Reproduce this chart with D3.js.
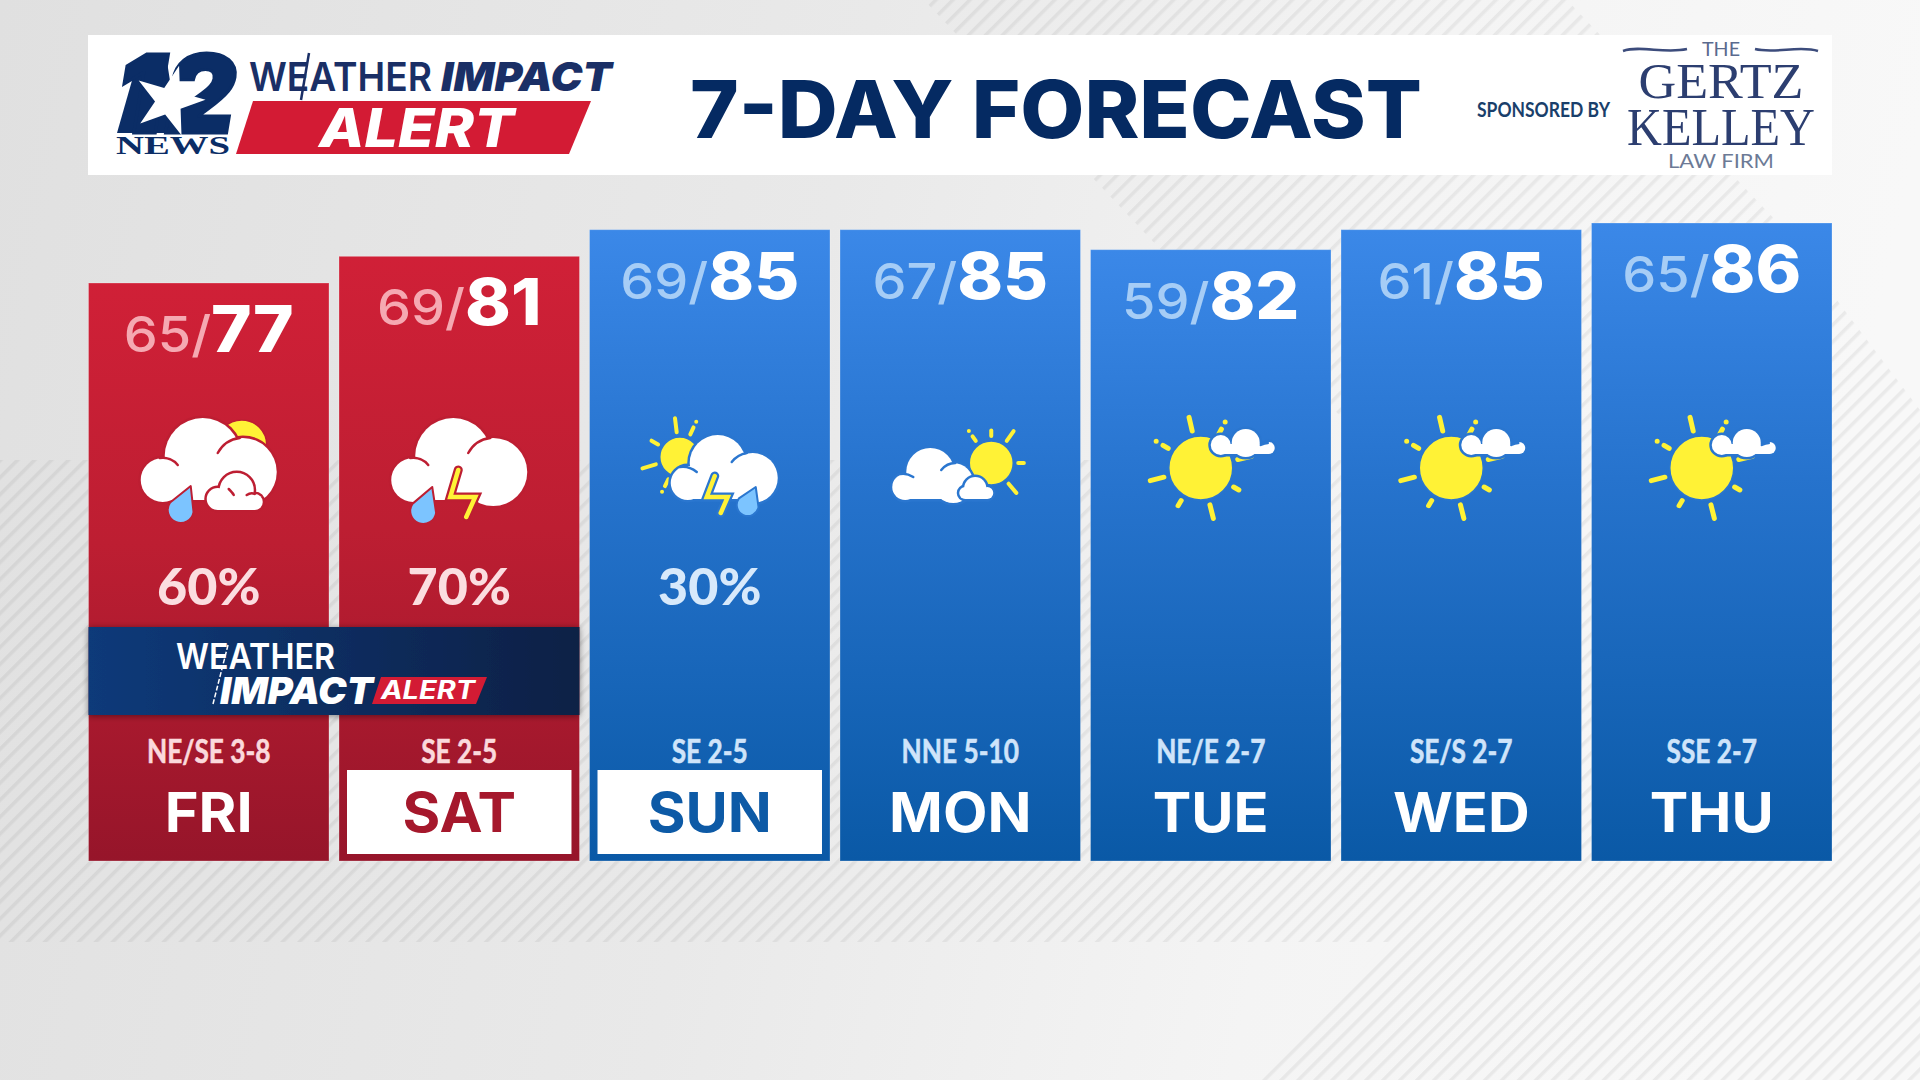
<!DOCTYPE html>
<html>
<head>
<meta charset="utf-8">
<script src="https://d3js.org/d3.v7.min.js"></script>
<style>
    html, body { margin: 0; padding: 0; background: #e8e8e8; }
    svg { display: block; }
    text { font-family: Inter, sans-serif; }
</style>
</head>
<body>
<div id="chart"></div>
<script>
var days = ['FRI', 'SAT', 'SUN', 'MON', 'TUE', 'WED', 'THU'];
var lows = [65, 69, 69, 67, 59, 61, 65];
var highs = [77, 81, 85, 85, 82, 85, 86];
var rainChance = [60, 70, 30, null, null, null, null];
var winds = ['NE/SE 3-8', 'SE 2-5', 'SE 2-5', 'NNE 5-10', 'NE/E 2-7', 'SE/S 2-7', 'SSE 2-7'];
var conditions = ['rainCloudSun', 'storm', 'sunStorm', 'partlySunny', 'mostlySunny', 'mostlySunny', 'mostlySunny'];
var alertDays = ['FRI', 'SAT'];
var boxedDays = ['SAT', 'SUN'];

var width = 1920;
var height = 1080;
var barBottom = 861;

var svg = d3.select('#chart').append('svg')
    .attr('width', width)
    .attr('height', height);

var defs = svg.append('defs');

function addGradient(id, stops, x2, y2) {
    var gradient = defs.append('linearGradient')
        .attr('id', id)
        .attr('x1', 0).attr('y1', 0)
        .attr('x2', x2).attr('y2', y2);
    stops.forEach(function (s) {
        gradient.append('stop').attr('offset', s[0]).attr('stop-color', s[1]);
    });
}

addGradient('bg', [[0, '#e0e0e0'], [0.45, '#e9e9e9'], [0.75, '#f4f4f4'], [1, '#f8f8f8']], 1, 0.12);
addGradient('redBar', [[0, '#d02037'], [0.45, '#bd1e32'], [1, '#96152a']], 0, 1);
addGradient('blueBar', [[0, '#3b88e8'], [0.4, '#2673cd'], [1, '#0a59a6']], 0, 1);
addGradient('banner', [[0, '#0b3a7a'], [1, '#0f2045']], 1, 0);

var hatch = defs.append('pattern')
    .attr('id', 'hatch')
    .attr('patternUnits', 'userSpaceOnUse')
    .attr('width', 12)
    .attr('height', 12)
    .attr('patternTransform', 'rotate(45)');
hatch.append('rect')
    .attr('width', 3.5)
    .attr('height', 12)
    .attr('fill', 'rgba(0,0,0,0.055)');

var shadow = defs.append('filter')
    .attr('id', 'shadow')
    .attr('x', -0.05).attr('y', -0.2)
    .attr('width', 1.1).attr('height', 1.4);
shadow.append('feDropShadow')
    .attr('dx', 0).attr('dy', 1)
    .attr('stdDeviation', 3)
    .attr('flood-opacity', 0.45);

/**
 * The grey backdrop with its two hatched areas.
 */
function drawBackground(selection) {
    selection.append('rect')
        .attr('width', width)
        .attr('height', height)
        .attr('fill', 'url(#bg)');

    selection.append('path')
        .attr('d', 'M0,460H1389V942H0Z')
        .attr('fill', 'url(#hatch)');

    selection.append('path')
        .attr('d', 'M924,0H1567L1780,225L1920,410V1080H1252L1389,942L1389,460L1180,270Z')
        .attr('fill', 'url(#hatch)');
}

/**
 * The white title strip: station logo, title and sponsor.
 */
function drawHeader(selection) {
    var navy = '#0b2d66';
    selection.append('rect')
        .attr('x', 88).attr('y', 35)
        .attr('width', 1744).attr('height', 140)
        .attr('fill', '#fff');

    // block behind the "1", the star bites into it
    selection.append('path')
        .attr('d', 'M117,133L137,63L166,55L178,133Z')
        .attr('fill', navy);

    selection.append('text')
        .attr('x', 116).attr('y', 133)
        .attr('textLength', 120)
        .attr('lengthAdjust', 'spacingAndGlyphs')
        .style('font-size', '108px')
        .style('font-weight', 900)
        .style('font-style', 'italic')
        .attr('fill', navy)
        .attr('stroke', navy)
        .attr('stroke-width', 3)
        .text('12');

    selection.append('path')
        .attr('d', d3.symbol(d3.symbolStar).size(1500))
        .attr('transform', 'translate(169,101) rotate(16)')
        .attr('fill', '#fff');

    selection.append('text')
        .attr('x', 116).attr('y', 154)
        .attr('textLength', 114)
        .attr('lengthAdjust', 'spacingAndGlyphs')
        .style('font-family', '"Liberation Serif", serif')
        .style('font-size', '26px')
        .style('font-weight', 700)
        .attr('fill', navy)
        .text('NEWS');

    selection.append('text')
        .attr('x', 249).attr('y', 91)
        .attr('textLength', 183)
        .attr('lengthAdjust', 'spacingAndGlyphs')
        .style('font-size', '40px')
        .style('font-weight', 600)
        .attr('fill', '#1a2f66')
        .text('WEATHER');

    selection.append('text')
        .attr('x', 441).attr('y', 91)
        .attr('textLength', 171)
        .attr('lengthAdjust', 'spacingAndGlyphs')
        .style('font-size', '40px')
        .style('font-weight', 900)
        .style('font-style', 'italic')
        .attr('fill', '#1a2f66')
        .text('IMPACT');

    selection.append('path')
        .attr('d', 'M309,53L301,100')
        .attr('stroke', '#1a2f66')
        .attr('stroke-width', 2.5);

    selection.append('path')
        .attr('d', 'M253,101H591L569,154H236Z')
        .attr('fill', '#d31b34');

    selection.append('text')
        .attr('x', 319).attr('y', 147)
        .attr('textLength', 195)
        .attr('lengthAdjust', 'spacingAndGlyphs')
        .style('font-size', '54px')
        .style('font-weight', 800)
        .style('font-style', 'italic')
        .attr('fill', '#fff')
        .text('ALERT');

    selection.append('text')
        .attr('x', 690).attr('y', 138)
        .attr('textLength', 732)
        .attr('lengthAdjust', 'spacingAndGlyphs')
        .style('font-size', '80px')
        .style('font-weight', 800)
        .attr('fill', '#052a62')
        .text('7-DAY FORECAST');

    selection.append('text')
        .attr('x', 1477).attr('y', 117)
        .attr('textLength', 133)
        .attr('lengthAdjust', 'spacingAndGlyphs')
        .style('font-family', 'Lato, sans-serif')
        .style('font-size', '21px')
        .style('font-weight', 700)
        .attr('fill', '#1a3f6b')
        .text('SPONSORED BY');

    var firm = selection.append('g').attr('text-anchor', 'middle');
    var lines = [
        {text: 'THE', y: 56, size: 20, color: '#5a6a8e', length: 38, sans: true},
        {text: 'GERTZ', y: 98, size: 50, color: '#2c3e70', length: 165},
        {text: 'KELLEY', y: 145, size: 53, color: '#2c3e70', length: 188},
        {text: 'LAW FIRM', y: 168, size: 20, color: '#6c7a96', length: 106, sans: true}
    ];
    lines.forEach(function (line) {
        firm.append('text')
            .attr('x', 1721).attr('y', line.y)
            .attr('textLength', line.length)
            .attr('lengthAdjust', 'spacingAndGlyphs')
            .style('font-family', line.sans ? 'Lato, sans-serif' : '"Liberation Serif", serif')
            .style('font-size', line.size + 'px')
            .attr('fill', line.color)
            .text(line.text);
    });

    selection.selectAll('path.swash')
        .data(['M1623,51C1640,45 1665,54 1687,49', 'M1755,49C1775,54 1800,45 1818,51'])
        .enter().append('path')
            .attr('class', 'swash')
            .attr('d', function (d) { return d; })
            .attr('fill', 'none')
            .attr('stroke', '#3c4c7c')
            .attr('stroke-width', 2.5);
}

/**
 * Draw a cloud from overlapping puffs. The outline in the background colour
 * goes first so the cloud cuts cleanly into whatever lies behind it.
 */
function drawCloud(selection, puffs, bottom, outline, creases) {
    var g = selection.append('g');
    var left = d3.min(puffs, function (p) { return p[0]; });
    var right = d3.max(puffs, function (p) { return p[0]; });
    var top = d3.max(puffs, function (p) { return p[1]; }) - 4;

    [{stroke: outline, sw: 5}, {stroke: 'none', sw: 0}].forEach(function (pass) {
        puffs.forEach(function (p) {
            g.append('circle')
                .attr('cx', p[0]).attr('cy', p[1]).attr('r', p[2])
                .attr('fill', '#fff')
                .attr('stroke', pass.stroke)
                .attr('stroke-width', pass.sw);
        });
        g.append('rect')
            .attr('x', left).attr('y', top)
            .attr('width', right - left)
            .attr('height', bottom - top)
            .attr('fill', '#fff')
            .attr('stroke', pass.stroke)
            .attr('stroke-width', pass.sw);
    });

    (creases || []).forEach(function (d) {
        g.append('path')
            .attr('d', d)
            .attr('fill', 'none')
            .attr('stroke', outline)
            .attr('stroke-width', 2.5)
            .attr('stroke-linecap', 'round');
    });
}

function drawDrop(selection, tipX, tipY, cx, cy, r, outline) {
    var a = Math.atan2(tipY - cy, tipX - cx);
    var x1 = cx + r * Math.cos(a - 1.35);
    var y1 = cy + r * Math.sin(a - 1.35);
    var x2 = cx + r * Math.cos(a + 1.35);
    var y2 = cy + r * Math.sin(a + 1.35);
    selection.append('path')
        .attr('d', 'M' + tipX + ',' + tipY + 'L' + x2 + ',' + y2 +
            'A' + r + ',' + r + ' 0 1 1 ' + x1 + ',' + y1 + 'Z')
        .attr('fill', '#7cc4ff')
        .attr('stroke', outline)
        .attr('stroke-width', 2)
        .attr('stroke-linejoin', 'round');
}

function drawBolt(selection, points, outline) {
    var line = d3.line();
    [{stroke: outline, sw: 9}, {stroke: '#fff236', sw: 4.5}].forEach(function (pass) {
        selection.append('path')
            .attr('d', line(points))
            .attr('fill', 'none')
            .attr('stroke', pass.stroke)
            .attr('stroke-width', pass.sw)
            .attr('stroke-linejoin', 'miter')
            .attr('stroke-linecap', 'round');
    });
}

/**
 * A sun with rays at the given angles, the dotted rays end in a separate dot.
 */
function drawSun(selection, cx, cy, r, rays, dotted, rayFrom, rayTo, rayWidth, outline) {
    rays.forEach(function (deg) {
        var a = deg * Math.PI / 180;
        var ray = selection.append('line')
            .attr('x1', cx + rayFrom * Math.cos(a))
            .attr('y1', cy + rayFrom * Math.sin(a))
            .attr('x2', cx + rayTo * Math.cos(a))
            .attr('y2', cy + rayTo * Math.sin(a))
            .attr('stroke', '#fff236')
            .attr('stroke-width', rayWidth)
            .attr('stroke-linecap', 'round');
        if (dotted.indexOf(deg) != -1) {
            ray.attr('stroke-dasharray', (rayTo - rayFrom - rayWidth * 1.6) + ' ' + rayWidth * 1.6 + ' 0.1 50');
        }
    });
    selection.append('circle')
        .attr('cx', cx).attr('cy', cy).attr('r', r)
        .attr('fill', '#fff236')
        .attr('stroke', outline)
        .attr('stroke-width', 1.5);
}

// each icon draws around the column centre, y values are page rows
var icons = {
    rainCloudSun: function (g) {
        var c = '#bd1e32';
        drawSun(g, 33, 445, 25, [], [], 0, 0, 0, c);
        drawCloud(g, [[-6, 456, 38], [-46, 480, 22], [34, 472, 34]], 500, c,
            ['M-49,458C-42,457 -35,460 -31,465', 'M9,453C14,444 22,439 31,438']);
        drawCloud(g, [[28, 490, 17], [9, 499, 11], [46, 502, 8]], 510, c,
            ['M20,489C22,491 24,493 25,495', 'M38,495C41,493 44,493 46,494']);
        drawDrop(g, -18, 486, -28, 510, 13, c);
    },
    storm: function (g) {
        var c = '#bd1e32';
        drawCloud(g, [[-6, 456, 38], [-46, 480, 22], [34, 472, 34]], 500, c,
            ['M-49,458C-42,457 -35,460 -31,465', 'M9,453C14,444 22,439 31,438']);
        drawBolt(g, [[-1, 470], [-9, 497], [16, 497], [7, 517]], c);
        drawDrop(g, -27, 487, -36, 511, 13, c);
    },
    sunStorm: function (g) {
        var c = '#2a76cf';
        drawSun(g, -30, 457, 20, [-97, -65, -150, 163, 117], [-65, -150, 117], 25, 39, 4, c);
        drawCloud(g, [[8, 463, 28], [-22, 483, 17], [43, 478, 25]], 499, c,
            ['M-30,467C-24,466 -18,468 -13,472', 'M22,462C26,457 31,454 37,453']);
        drawBolt(g, [[5, 476], [-3, 497], [18, 497], [11, 513]], c);
        drawDrop(g, 46, 487, 38, 505, 11, c);
    },
    partlySunny: function (g) {
        var c = '#2a76cf';
        drawSun(g, 31, 463, 22, [-90, -125, -55, 0, 50], [-90, -125, 0], 27, 39, 4, c);
        drawCloud(g, [[-30, 472, 24], [-55, 487, 13], [-7, 483, 20]], 499, c,
            ['M-60,474C-55,473 -50,475 -47,477', 'M-19,470C-15,465 -10,463 -5,463']);
        drawCloud(g, [[15, 488, 11], [5, 493, 6], [27, 493, 6]], 499, c);
    },
    mostlySunny: function (g) {
        var c = '#2a76cf';
        var rays = [-103, -62, -149, 166, 121, 76, 30, -13];
        drawSun(g, -10, 468, 32, rays, [-62, -149, 121, 30], 38, 52, 5, c);
        drawCloud(g, [[35, 443, 14], [10, 445, 10], [58, 448, 6]], 454, c,
            ['M50,445C52,444 55,443 57,443']);
    }
};

drawBackground(svg.append('g').attr('class', 'background'));
drawHeader(svg.append('g').attr('class', 'header'));

var x = d3.scaleBand()
    .domain(days)
    .range([88.5, 1832])
    .paddingInner(0.04);

// bar tops follow the high temperature
var y = d3.scaleLinear()
    .domain([77, 86])
    .range([283, 223]);

var rows = days.map(function (day, i) {
    return {
        day: day,
        low: lows[i],
        high: highs[i],
        rain: rainChance[i],
        wind: winds[i],
        condition: conditions[i],
        alert: alertDays.indexOf(day) != -1,
        boxed: boxedDays.indexOf(day) != -1
    };
});

var columns = svg.append('g').attr('class', 'columns')
    .selectAll('g.column')
    .data(rows)
    .enter().append('g')
        .attr('class', 'column')
        .attr('transform', function (d) {
            return 'translate(' + (x(d.day) + x.bandwidth() / 2) + ',0)';
        });

columns.append('rect')
    .attr('x', -x.bandwidth() / 2)
    .attr('y', function (d) { return y(d.high); })
    .attr('width', x.bandwidth())
    .attr('height', function (d) { return barBottom - y(d.high); })
    .attr('fill', function (d) { return d.alert ? 'url(#redBar)' : 'url(#blueBar)'; })
    .attr('stroke', 'rgba(255,255,255,0.25)')
    .attr('stroke-width', 1);

var temps = columns.append('text')
    .attr('text-anchor', 'middle')
    .attr('transform', function (d) {
        return 'translate(0,' + (y(d.high) + 69) + ') scale(1.08,1)';
    });

temps.append('tspan')
    .style('font-size', '50px')
    .style('font-weight', 500)
    .attr('fill', function (d) { return d.alert ? '#f5a9b2' : '#a6cdf6'; })
    .text(function (d) { return d.low + '/'; });

temps.append('tspan')
    .style('font-size', '64px')
    .style('font-weight', 800)
    .attr('fill', '#fff')
    .text(function (d) { return d.high; });

columns.each(function (d) {
    icons[d.condition](d3.select(this).append('g').attr('class', 'icon'));
});

columns.filter(function (d) { return d.rain !== null; })
    .append('text')
    .attr('text-anchor', 'middle')
    .attr('y', 605)
    .style('font-family', 'Lato, sans-serif')
    .style('font-size', '52px')
    .style('font-weight', 900)
    .attr('fill', function (d) { return d.alert ? '#fbdde0' : '#d7e9fb'; })
    .text(function (d) { return d.rain + '%'; });

columns.append('text')
    .attr('text-anchor', 'middle')
    .attr('transform', 'translate(0,763) scale(0.82,1)')
    .style('font-family', 'Lato, sans-serif')
    .style('font-size', '32px')
    .style('font-weight', 700)
    .attr('fill', function (d) { return d.alert ? '#fbd9dc' : '#cfe4fa'; })
    .attr('stroke', function (d) { return d.alert ? '#fbd9dc' : '#cfe4fa'; })
    .attr('stroke-width', 0.6)
    .text(function (d) { return d.wind; });

columns.filter(function (d) { return d.boxed; })
    .append('rect')
    .attr('x', -x.bandwidth() / 2 + 8)
    .attr('y', 770)
    .attr('width', x.bandwidth() - 16)
    .attr('height', 84)
    .attr('fill', '#fff');

columns.append('text')
    .attr('text-anchor', 'middle')
    .attr('transform', 'translate(0,832) scale(1.05,1)')
    .style('font-size', '55px')
    .style('font-weight', 700)
    .attr('fill', function (d) {
        if (!d.boxed) return '#fff';
        return d.alert ? '#a5182c' : '#0d5aa6';
    })
    .text(function (d) { return d.day; });

/**
 * The alert banner lying across the red columns.
 */
function drawBanner(selection) {
    selection.append('rect')
        .attr('x', x(alertDays[0]))
        .attr('y', 627)
        .attr('width', x(alertDays[alertDays.length - 1]) + x.bandwidth() - x(alertDays[0]))
        .attr('height', 88)
        .attr('fill', 'url(#banner)')
        .attr('filter', 'url(#shadow)');

    selection.append('text')
        .attr('x', 176).attr('y', 669)
        .attr('textLength', 159)
        .attr('lengthAdjust', 'spacingAndGlyphs')
        .style('font-size', '36px')
        .style('font-weight', 600)
        .attr('fill', '#fff')
        .text('WEATHER');

    selection.append('text')
        .attr('x', 220).attr('y', 704)
        .attr('textLength', 153)
        .attr('lengthAdjust', 'spacingAndGlyphs')
        .style('font-size', '37px')
        .style('font-weight', 900)
        .style('font-style', 'italic')
        .attr('fill', '#fff')
        .text('IMPACT');

    selection.append('path')
        .attr('d', 'M228,645L213,704')
        .attr('stroke', '#fff')
        .attr('stroke-width', 1.5)
        .attr('stroke-dasharray', '5 2');

    selection.append('path')
        .attr('d', 'M381,677H487L476,704H372Z')
        .attr('fill', '#d31b34');

    selection.append('text')
        .attr('x', 381).attr('y', 699)
        .attr('textLength', 94)
        .attr('lengthAdjust', 'spacingAndGlyphs')
        .style('font-size', '25px')
        .style('font-weight', 700)
        .style('font-style', 'italic')
        .attr('fill', '#fff')
        .text('ALERT');
}

drawBanner(svg.append('g').attr('class', 'banner'));
</script>
</body>
</html>
